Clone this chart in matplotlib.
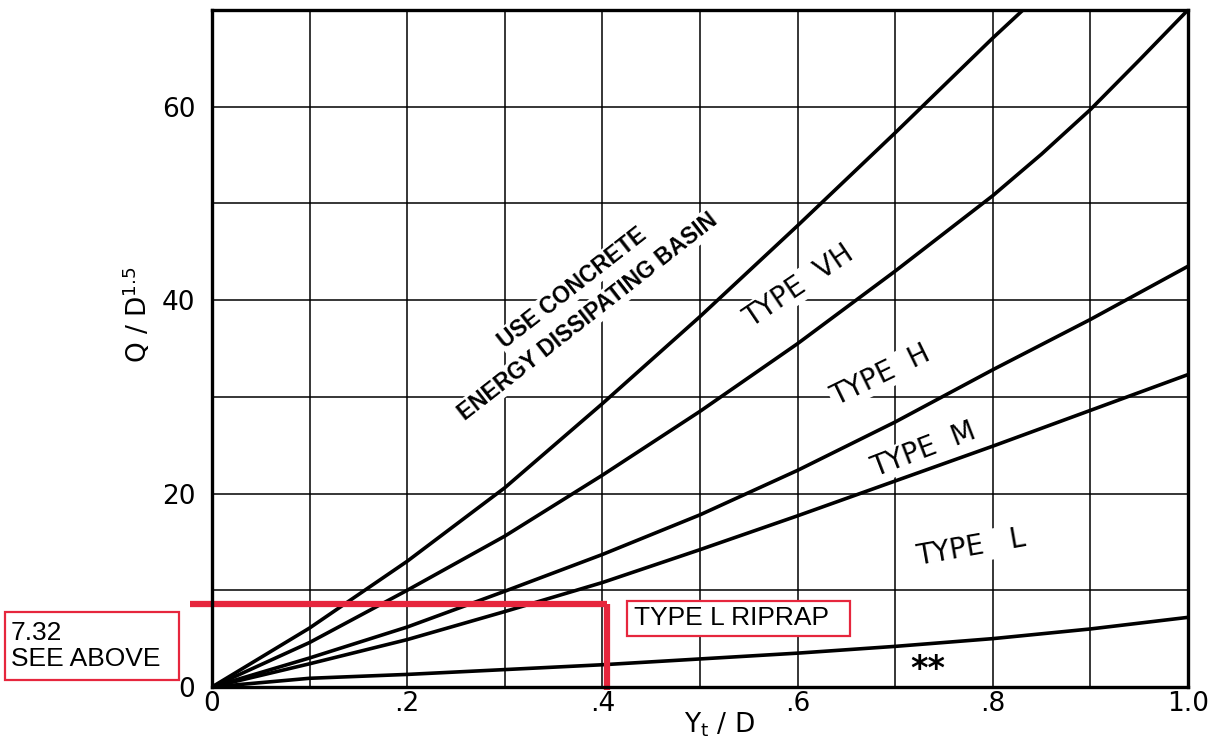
import matplotlib
matplotlib.use("Agg")
import matplotlib.pyplot as plt
from matplotlib.patches import Rectangle

# ratio Yt/D read at the grid lines
x_grid = [0.0, 0.1, 0.2, 0.3, 0.4, 0.5, 0.6, 0.7, 0.8, 0.9, 1.0]

# upper limit of riprap (above it: concrete basin)
x_vh = [0.0, 0.1, 0.2, 0.3, 0.4, 0.5, 0.6, 0.7, 0.8, 0.831]
q_vh = [0.0, 6.1, 13.0, 20.6, 29.3, 38.3, 47.7, 57.3, 67.1, 70.0]
# boundary VH / H
x_h = [0.0, 0.1, 0.2, 0.3, 0.4, 0.5, 0.6, 0.7, 0.8, 0.85, 0.9, 0.95, 1.0]
q_h = [0.0, 4.6, 10.0, 15.6, 21.9, 28.5, 35.5, 43.0, 50.8, 55.1, 59.7, 64.8, 70.0]
# boundary H / M
q_m = [0.0, 3.0, 6.2, 9.9, 13.7, 17.8, 22.4, 27.4, 32.8, 38.0, 43.5]
# boundary M / L
q_l = [0.0, 2.4, 4.9, 7.8, 10.8, 14.2, 17.7, 21.3, 24.9, 28.6, 32.3]
# lower limit of type L
q_low = [0.0, 0.9, 1.3, 1.8, 2.3, 2.9, 3.5, 4.2, 5.0, 6.0, 7.2]

# design point marked in red
pt_x = 0.405
pt_q = 8.55

red = "#e6263d"

fig = plt.figure(figsize=(12.08, 7.46), dpi=100)
ax = fig.add_axes([0.1755, 0.0791, 0.8079, 0.9075])

ax.set_xlim(0, 1.0)
ax.set_ylim(0, 70)
ax.set_xticks([i / 10 for i in range(11)], minor=True)
ax.set_yticks(range(0, 71, 10), minor=True)
ax.set_xticks([0, 0.2, 0.4, 0.6, 0.8, 1.0])
ax.set_xticklabels(["0", ".2", ".4", ".6", ".8", "1.0"])
ax.set_yticks([0, 20, 40, 60])
ax.set_yticklabels(["0", "20", "40", "60"])
ax.grid(which="both", color="black", linewidth=1.1)
ax.tick_params(which="both", length=0, labelsize=19)
ax.tick_params(axis="y", pad=12)
ax.tick_params(axis="x", pad=3)
for s in ax.spines.values():
    s.set_linewidth(2.4)
ax.set_axisbelow(True)

ax.plot(x_vh, q_vh, color="black", lw=2.6, solid_capstyle="round")
ax.plot(x_h, q_h, color="black", lw=2.6, solid_capstyle="round")
for q in [q_m, q_l, q_low]:
    ax.plot(x_grid, q, color="black", lw=2.6, solid_capstyle="round")

# labels
wb = dict(facecolor="white", edgecolor="none", pad=1)
ax.text(0.369, 41.2, "USE CONCRETE", rotation=38, ha="center", va="center",
        fontsize=16.5, fontweight="bold", family="Liberation Sans", bbox=wb)
ax.text(0.385, 38.3, "ENERGY DISSIPATING BASIN", rotation=38, ha="center",
        va="center", fontsize=16.5, fontweight="bold", family="Liberation Sans", bbox=wb)
ax.text(0.601, 41.4, "TYPE  VH", rotation=34, ha="center", va="center", fontsize=20, bbox=wb)
ax.text(0.685, 32.2, "TYPE  H", rotation=26, ha="center", va="center", fontsize=20, bbox=wb)
ax.text(0.729, 24.5, "TYPE  M", rotation=21, ha="center", va="center", fontsize=20, bbox=wb)
ax.text(0.778, 14.4, "TYPE   L", rotation=10, ha="center", va="center", fontsize=20, bbox=wb)
ax.text(0.733, 1.8, "**", ha="center", va="center", fontsize=24, fontweight="bold")

ax.set_xlabel(r"Y$_{\mathregular{t}}$ / D", fontsize=19)
ax.xaxis.set_label_coords(0.52, -0.034)
ax.set_ylabel(r"Q / D$^{\mathregular{1.5}}$", fontsize=19)
ax.yaxis.set_label_coords(-0.06, 0.55)

# red markup
ax.plot([-0.023, pt_x], [pt_q, pt_q], color=red, lw=4.5, clip_on=False, solid_capstyle="butt")
ax.plot([pt_x, pt_x], [pt_q, -0.3], color=red, lw=4.5, clip_on=False, solid_capstyle="butt")

W, H = 1208, 746
fig.patches.append(Rectangle((5 / W, 1 - 680 / H), 174 / W, 68 / H, transform=fig.transFigure,
                             facecolor="white", edgecolor=red, lw=1.6))
fig.text(11 / W, 1 - 646 / H, "7.32\nSEE ABOVE", fontsize=19, family="Liberation Sans",
         va="center", ha="left", linespacing=1.1)
fig.patches.append(Rectangle((627 / W, 1 - 636 / H), 223 / W, 35 / H, transform=fig.transFigure,
                             facecolor="white", edgecolor=red, lw=1.6))
fig.text(634 / W, 1 - 618 / H, "TYPE L RIPRAP", fontsize=19, family="Liberation Sans",
         va="center", ha="left")

fig.savefig("out.png", dpi=100)
